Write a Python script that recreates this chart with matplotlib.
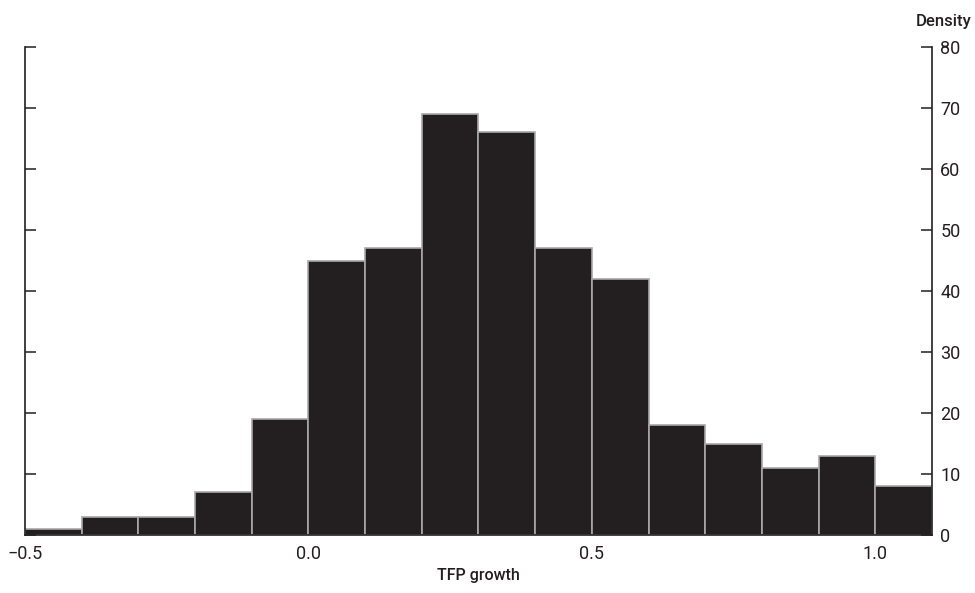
import matplotlib
matplotlib.use("Agg")
import matplotlib.pyplot as plt
import numpy as np

bin_edges = [-0.5, -0.4, -0.3, -0.2, -0.1, 0.0, 0.1, 0.2, 0.3, 0.4, 0.5, 0.6, 0.7, 0.8, 0.9, 1.0, 1.1]
density = [1, 3, 3, 7, 19, 45, 47, 69, 66, 47, 42, 18, 15, 11, 13, 8]
x_ticks = [-0.5, 0.0, 0.5, 1.0]
x_labels = ["\u22120.5", "0.0", "0.5", "1.0"]
y_ticks = [0, 10, 20, 30, 40, 50, 60, 70, 80]

plt.rcParams['font.family'] = ['Roboto', 'DejaVu Sans']

fig = plt.figure(figsize=(9.75, 5.93), dpi=100)
ax = fig.add_axes([0.0256, 0.0978, 0.9303, 0.8229])

lefts = np.array(bin_edges[:-1])
widths = np.diff(bin_edges)
ax.bar(lefts, density, width=widths, align='edge', color='#231f20',
       edgecolor='#a8a8a8', linewidth=1.2)

ax.set_xlim(-0.5, 1.1)
ax.set_ylim(0, 80)
ax.set_xticks(x_ticks)
ax.set_xticklabels(x_labels, fontsize=13)
ax.tick_params(axis='x', length=0, pad=7, colors='#231f20')
ax.set_yticks(y_ticks)
ax.tick_params(axis='y', which='both', direction='in', length=8, width=1.1,
               left=True, right=True, labelleft=False, labelright=True,
               labelsize=13, pad=6, colors='#231f20')
ax.spines['top'].set_visible(False)
for s in ['left', 'right', 'bottom']:
    ax.spines[s].set_color('#231f20')
    ax.spines[s].set_linewidth(1.2)

ax.set_xlabel("TFP growth", fontsize=11.5, color='#231f20', labelpad=4, fontweight='medium')
fig.text(0.996, 0.963, "Density", ha='right', va='center', fontsize=12,
         color='#231f20', fontweight='medium')

fig.savefig("out.png", dpi=100)
